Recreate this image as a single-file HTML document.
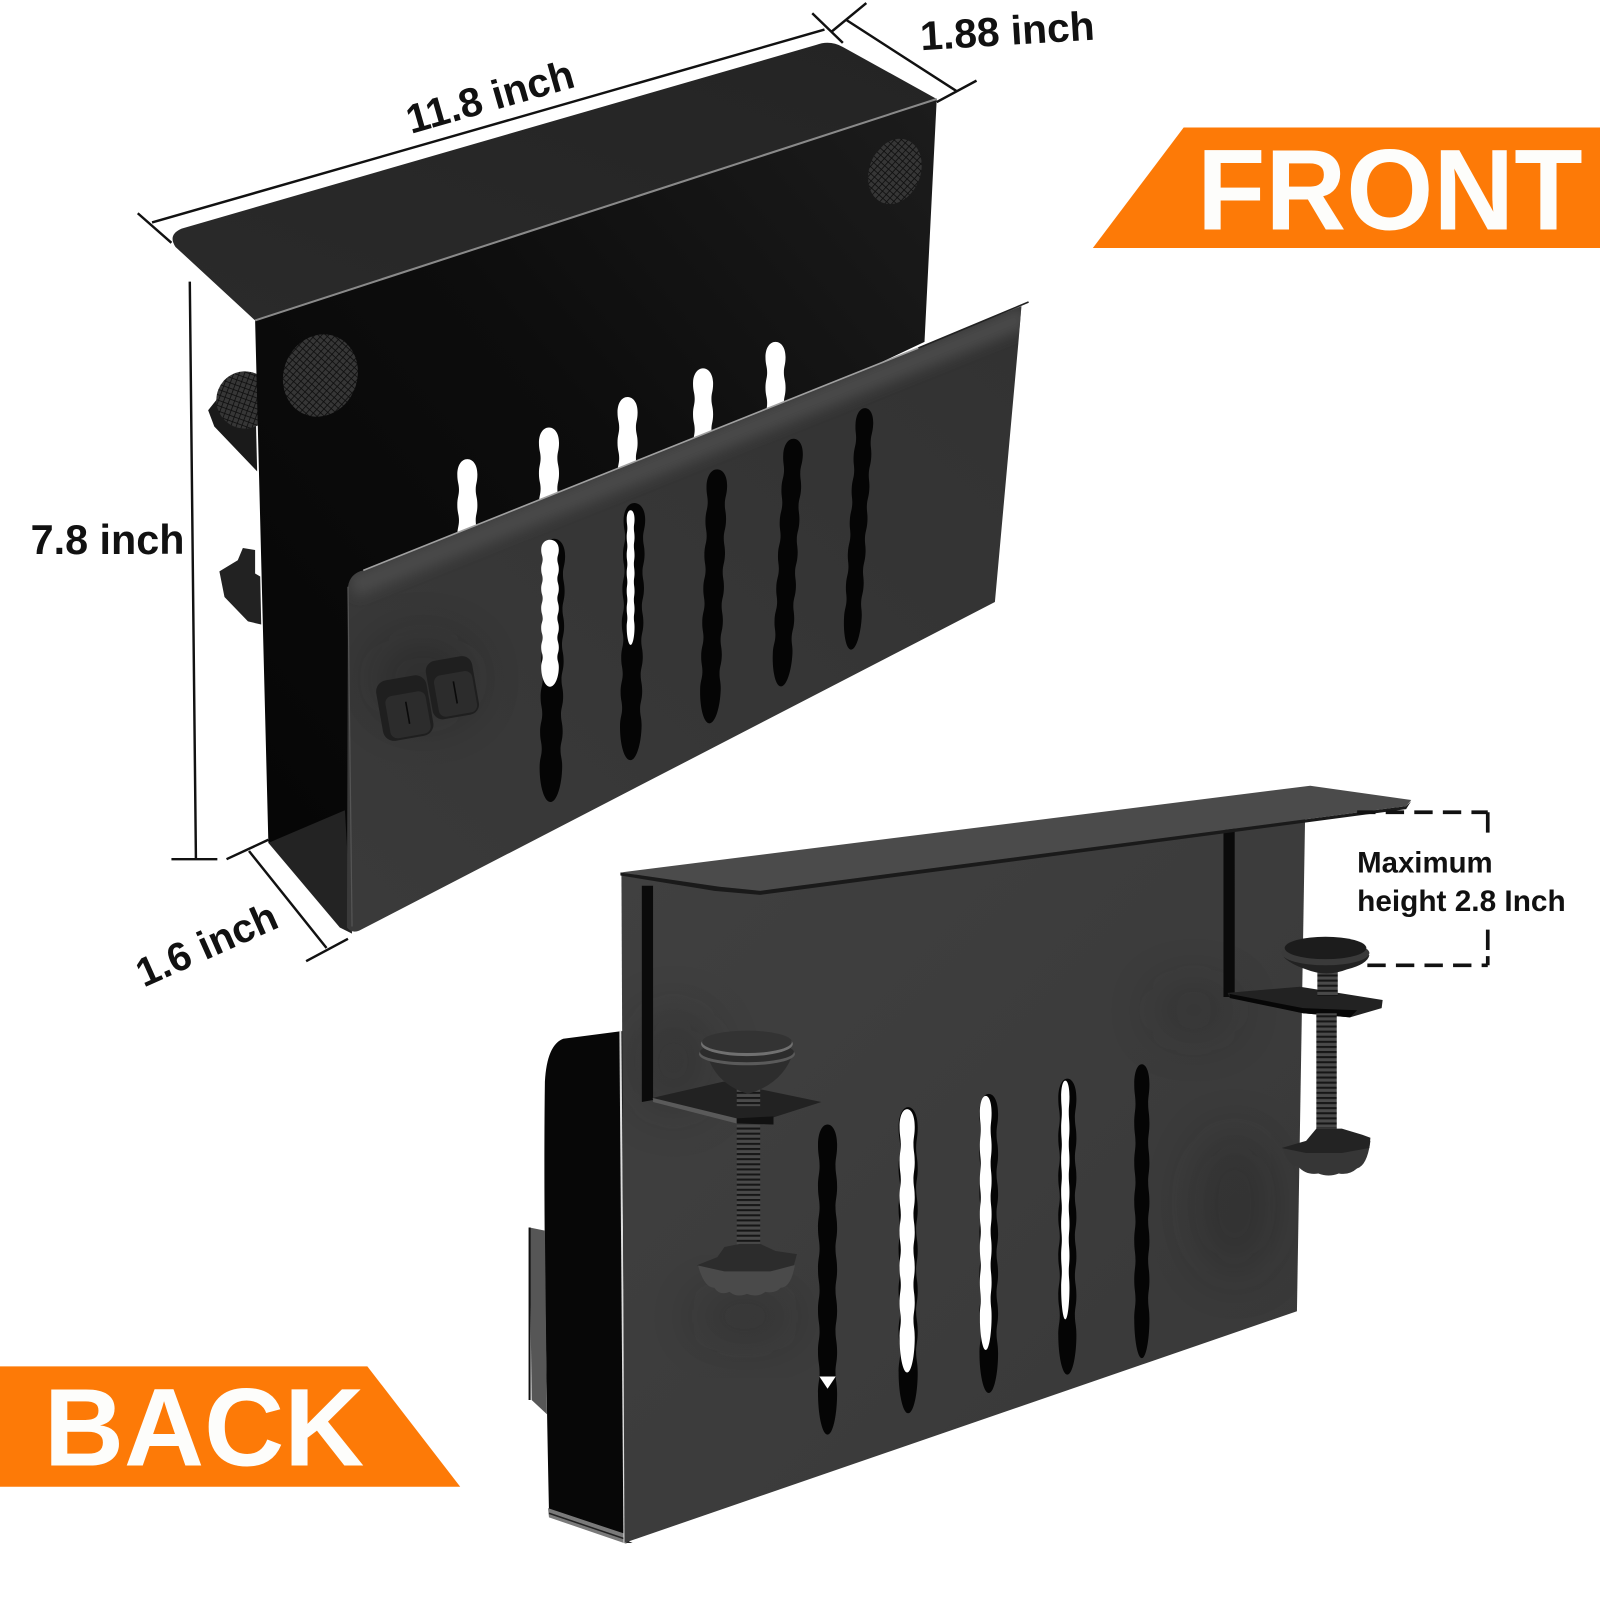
<!DOCTYPE html>
<html><head><meta charset="utf-8"><style>html,body{margin:0;padding:0;background:#fff}svg{display:block}text{font-family:"Liberation Sans",sans-serif;font-weight:bold;fill:#111}</style></head><body>
<svg xmlns="http://www.w3.org/2000/svg" width="1600" height="1600" viewBox="0 0 1568 1568">
<defs>
<path id="s" d="M0 0C7 0 12 8 12 20C12 30 10 32 10 40C10 48 12 50 12 60C12 70 10 72 10 80C10 88 12 90 12 100C12 110 10 112 10 120C10 128 12 130 12 140C12 150 10 152 10 160C10 168 12 170 12 180C12 190 10 192 10 200C10 208 12 210 12 220C12 230 10 232 10 240C10 248 12 250 12 260C12 280 7 300 0 300C-7 300 -12 280 -12 260C-12 250 -10 248 -10 240C-10 232 -12 230 -12 220C-12 210 -10 208 -10 200C-10 192 -12 190 -12 180C-12 170 -10 168 -10 160C-10 152 -12 150 -12 140C-12 130 -10 128 -10 120C-10 112 -12 110 -12 100C-12 90 -10 88 -10 80C-10 72 -12 70 -12 60C-12 50 -10 48 -10 40C-10 32 -12 30 -12 20C-12 8 -7 0 0 0Z"/>
<pattern id="felt" width="5" height="5" patternUnits="userSpaceOnUse" patternTransform="rotate(20)"><rect width="5" height="5" fill="#363636"/><path d="M0 0H5M0 0V5" stroke="#0e0e0e" stroke-width="1.6"/></pattern>
<pattern id="thread" width="6" height="5" patternUnits="userSpaceOnUse"><rect width="6" height="5" fill="#4a4a4a"/><path d="M0 1H6" stroke="#161616" stroke-width="2"/></pattern>
<linearGradient id="wall" x1="1" y1="0" x2="0" y2="1"><stop offset="0" stop-color="#1c1c1c"/><stop offset=".45" stop-color="#0d0d0d"/><stop offset="1" stop-color="#050505"/></linearGradient>
<linearGradient id="plate" x1="0" y1="1" x2="1" y2="0"><stop offset="0" stop-color="#2a2a2a"/><stop offset="1" stop-color="#242424"/></linearGradient>
<linearGradient id="fp" x1="0" y1="1" x2="1" y2="0"><stop offset="0" stop-color="#3a3a3a"/><stop offset="1" stop-color="#323232"/></linearGradient>
<linearGradient id="bp" x1="0" y1="0" x2="1" y2="1"><stop offset="0" stop-color="#404040"/><stop offset="1" stop-color="#383838"/></linearGradient>
<filter id="b" x="-100%" y="-100%" width="300%" height="300%"><feGaussianBlur stdDeviation="24"/></filter>
<filter id="b2" x="-20%" y="-50%" width="140%" height="200%"><feGaussianBlur stdDeviation="6"/></filter>
<clipPath id="bpc"><polygon points="609,856 1279,800 1271,1285 612,1512"/></clipPath>
<clipPath id="fpc"><path d="M341 575Q343 562 356 559L1001 300L998 336L975 590L352 912Q345 915 340 909Z"/></clipPath>
</defs>
<rect width="1568" height="1568" fill="#fff"/>

<!-- banners -->
<polygon points="1071,243 1160,125 1568,125 1568,243" fill="#fd7a07"/>
<text x="1173" y="225" font-size="113" textLength="378" lengthAdjust="spacingAndGlyphs" style="fill:#fdfdfb">FRONT</text>
<polygon points="0,1339 360,1339 451,1457 0,1457" fill="#fd7a07"/>
<text x="43" y="1436" font-size="108" textLength="314" lengthAdjust="spacingAndGlyphs" style="fill:#fdfdfb">BACK</text>

<!-- dimension lines -->
<g stroke="#111" stroke-width="2.4" fill="none">
<path d="M149 218L808 29M135 209L168 238M796 13L826 42M815 31L849 3M830 20L937 89M918 100L957 79"/>
<path d="M186 276L192 842M168 842H213M222 842L263 823M244 834L320 929M300 942L341 920"/>
</g>
<text x="484" y="108" font-size="40" text-anchor="middle" transform="rotate(-16 484 108)">11.8 inch</text>
<text x="988" y="44" font-size="40" text-anchor="middle" transform="rotate(-3.5 988 44)">1.88 inch</text>
<text x="30" y="543" font-size="40.5">7.8 inch</text>
<text x="208" y="938" font-size="39.5" text-anchor="middle" transform="rotate(-24 208 938)">1.6 inch</text>

<!-- FRONT unit: behind-the-wall hardware -->
<polygon points="204,402 212,392 250,380 252,462 210,418" fill="#1a1a1a"/>
<ellipse cx="240" cy="392" rx="28" ry="28" fill="url(#felt)"/>
<polygon points="215,560 233,549 238,537 250,539 250,562 255,565 256,612 243,609 220,585" fill="#222"/>

<!-- wall -->
<polygon points="250,314 918,97 906,335 345,600 345,900 263,826" fill="url(#wall)"/>
<!-- top plate -->
<path d="M178 224L800 44Q813 39 826 46L918 97L250 314L172 242Q164 230 178 224Z" fill="url(#plate)"/>
<path d="M250 314L918 97" stroke="#8a8a8a" stroke-width="2"/>
<ellipse cx="314" cy="368" rx="36" ry="41" transform="rotate(22 314 368)" fill="url(#felt)"/>
<ellipse cx="877" cy="168" rx="25" ry="33" transform="rotate(22 877 168)" fill="url(#felt)"/>
<!-- back wall white slots -->
<g fill="#fff">
<use href="#s" transform="translate(458,450) scale(.82,.75)"/>
<use href="#s" transform="translate(538,419) scale(.82,.75)"/>
<use href="#s" transform="translate(615,389) scale(.82,.75)"/>
<use href="#s" transform="translate(689,361) scale(.82,.75)"/>
<use href="#s" transform="translate(760,335) scale(.82,.75)"/>
</g>
<!-- floor -->
<polygon points="263,826 338,794 345,915 333,909" fill="#232323"/>
<!-- front panel -->
<path d="M341 575Q343 562 356 559L1001 300L998 336L975 590L352 912Q345 915 340 909Z" fill="url(#fp)"/>
<g clip-path="url(#fpc)"><path d="M345 575L1005 310" stroke="#4a4a4a" stroke-width="22" filter="url(#b2)" fill="none"/></g>
<path d="M356 559L900 341" stroke="#a0a0a0" stroke-width="1.6"/>
<path d="M900 341L1008 296" stroke="#222" stroke-width="1.6"/>
<path d="M341 575L345 908" stroke="#555" stroke-width="1.2"/>
<g fill="#050505">
<use href="#s" transform="translate(543,528) rotate(.8) scale(.92,.86)"/>
<use href="#s" transform="translate(622,493) rotate(1) scale(.88,.84)"/>
<use href="#s" transform="translate(703,460) rotate(1.8) scale(.84,.83)"/>
<use href="#s" transform="translate(778,430) rotate(3) scale(.8,.81)"/>
<use href="#s" transform="translate(848,400) rotate(3.4) scale(.72,.79)"/>
</g>
<g fill="#fff">
<use href="#s" transform="translate(539,529) scale(.72,.48)"/>
<use href="#s" transform="translate(618,500) scale(.32,.44)"/>
</g>
<!-- clips -->
<g clip-path="url(#fpc)"><ellipse cx="415" cy="665" rx="50" ry="40" fill="#141414" filter="url(#b)" opacity=".3"/></g>
<g transform="rotate(-10 396 690)"><rect x="371" y="664" width="50" height="60" rx="11" fill="#1f1f1f"/><rect x="378" y="680" width="40" height="42" rx="7" fill="#2c2c2c"/><path d="M398 688V710" stroke="#0a0a0a" stroke-width="1.6"/></g>
<g transform="rotate(-10 443 672)"><rect x="420" y="645" width="46" height="58" rx="10" fill="#1f1f1f"/><rect x="426" y="660" width="38" height="41" rx="7" fill="#2c2c2c"/><path d="M445 668V690" stroke="#0a0a0a" stroke-width="1.6"/></g>

<!-- BACK unit -->
<path d="M552 1018L613 1010V1512L620 1512L538 1481Q532 1200 534 1060Q536 1024 552 1018Z" fill="#070707"/>
<polygon points="519,1203 534,1206 536,1386 521,1372" fill="#565656"/>
<path d="M519 1203V1372" stroke="#111" stroke-width="2"/>
<polygon points="537,1478 612,1503 614,1513 538,1487" fill="#7a7a7a"/>
<path d="M538 1483L612 1508" stroke="#222" stroke-width="1.5"/>
<path d="M608 1010L612 1512" stroke="#ddd" stroke-width="2"/>
<polygon points="609,856 1279,800 1271,1285 612,1512" fill="url(#bp)"/>
<g clip-path="url(#bpc)">
<ellipse cx="1210" cy="1180" rx="40" ry="70" fill="#1c1c1c" filter="url(#b)" opacity=".28"/>
<ellipse cx="1170" cy="990" rx="40" ry="25" fill="#1c1c1c" filter="url(#b)" opacity=".25"/>
<ellipse cx="660" cy="1040" rx="40" ry="50" fill="#1c1c1c" filter="url(#b)" opacity=".25"/>
<ellipse cx="730" cy="1290" rx="50" ry="20" fill="#1c1c1c" filter="url(#b)" opacity=".3"/>
</g>
<polygon points="629,868 640,868 640,1078 629,1080" fill="#0a0a0a"/>
<polygon points="1199,812 1210,811 1210,977 1199,977" fill="#0a0a0a"/>
<!-- top plate -->
<path d="M608 855L1284 770L1383 784L1378 790L745 873L705 869Z" fill="#4b4b4b"/>
<path d="M608 855L705 869L745 873L1378 790L1383 785L1378 793L745 877L700 873L608 858Z" fill="#1a1a1a"/>
<!-- slots -->
<g fill="#050505">
<use href="#s" transform="translate(811,1102) scale(.78,1.013)"/>
<use href="#s" transform="translate(890,1085) scale(.78,1)"/>
<use href="#s" transform="translate(969,1072) scale(.76,.977)"/>
<use href="#s" transform="translate(1046,1057) scale(.74,.967)"/>
<use href="#s" transform="translate(1119,1043) scale(.62,.96)"/>
</g>
<g fill="#fff">
<use href="#s" transform="translate(889,1087) scale(.62,.86)"/>
<use href="#s" transform="translate(966,1074) scale(.48,.83)"/>
<use href="#s" transform="translate(1044,1059) scale(.34,.78)"/>
<polygon points="803,1349 819,1349 811,1361"/>
</g>

<!-- left clamp -->
<polygon points="639,1076 709,1060 805,1080 758,1095 758,1102 722,1100 640,1078" fill="#222"/>
<polygon points="640,1076 722,1096 722,1101 640,1080" fill="#5a5a5a"/>
<polygon points="722,1096 758,1094 758,1102 722,1101" fill="#111"/>
<rect x="722" y="1102" width="23" height="126" fill="url(#thread)"/>
<rect x="722" y="1050" width="23" height="34" fill="url(#thread)"/>
<path d="M692 1030Q700 1062 733 1072Q768 1062 778 1030Z" fill="#2d2d2d"/>
<ellipse cx="732" cy="1033" rx="47" ry="11" fill="#5a5a5a"/>
<ellipse cx="732" cy="1031" rx="46" ry="10" fill="#2c2c2c"/>
<ellipse cx="732" cy="1023" rx="45" ry="12" fill="#707070"/>
<ellipse cx="732" cy="1021" rx="44" ry="11" fill="#333"/>
<path d="M684 1240Q690 1262 700 1262Q705 1270 715 1266Q722 1272 732 1268Q742 1272 750 1266Q760 1268 765 1262Q775 1262 779 1240Z" fill="#4a4a4a"/>
<path d="M683 1240L703 1232L710 1222L725 1219H745L760 1226L781 1229L778 1240L755 1246H710Z" fill="#2c2c2c"/>

<!-- right clamp -->
<polygon points="1203,973 1274,967 1355,980 1354,988 1323,997 1277,993 1205,977" fill="#222"/>
<polygon points="1205,974 1277,988 1330,990 1323,997 1277,993 1205,978" fill="#070707"/>
<rect x="1290" y="993" width="20" height="113" fill="url(#thread)"/>
<rect x="1291" y="946" width="20" height="30" fill="url(#thread)"/>
<path d="M1258 938Q1265 945 1280 950Q1300 958 1320 950Q1340 945 1342 936Z" fill="#222"/>
<ellipse cx="1299" cy="934" rx="43" ry="12" fill="#3a3a3a"/>
<ellipse cx="1299" cy="929" rx="40" ry="11" fill="#1c1c1c"/>
<path d="M1257 1125Q1262 1142 1272 1143Q1280 1152 1292 1150Q1302 1154 1312 1150Q1322 1152 1330 1145Q1340 1142 1343 1118Z" fill="#363636"/>
<path d="M1256 1125L1280 1118L1290 1106H1315L1335 1112L1343 1115L1342 1125L1315 1130H1280Z" fill="#232323"/>

<!-- dashed bracket -->
<g stroke="#111" stroke-width="3.6" fill="none" stroke-dasharray="18 10">
<path d="M1330 796H1458"/><path d="M1340 946H1458"/>
</g>
<path d="M1458 796V820M1458 911V946" stroke="#111" stroke-width="3.6" stroke-dasharray="20 6" fill="none"/>
<text x="1330" y="855" font-size="28.8">Maximum</text>
<text x="1330" y="893" font-size="29.2">height 2.8 Inch</text>
</svg>
</body></html>
